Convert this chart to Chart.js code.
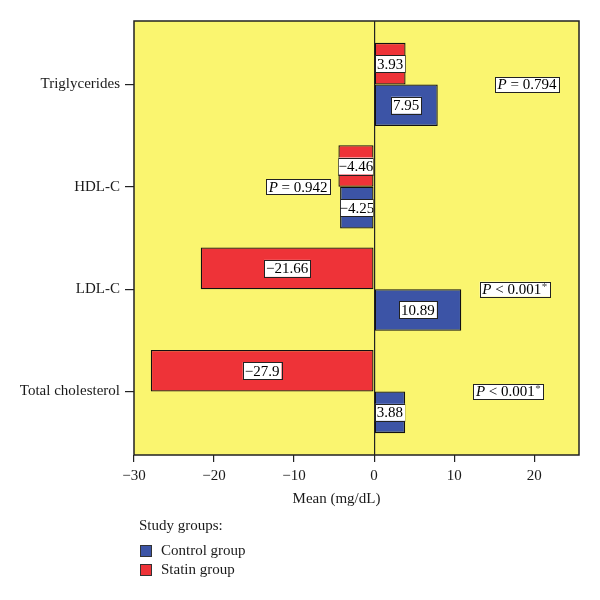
<!DOCTYPE html>
<html>
<head>
<meta charset="utf-8">
<script src="https://cdn.jsdelivr.net/npm/chart.js@4/dist/chart.umd.min.js"></script>
<style>
  html, body { margin: 0; padding: 0; background: #ffffff; }
  #wrap { position: relative; width: 600px; height: 600px; }
</style>
</head>
<body>
<div id="wrap"><canvas id="c" width="600" height="600"></canvas></div>
<script>
// ---- data ----
const categories = ['Triglycerides', 'HDL-C', 'LDL-C', 'Total cholesterol'];
const statinValues = [3.93, -4.46, -21.66, -27.9];
const controlValues = [7.95, -4.25, 10.89, 3.88];
const valueLabels = {
  statin: ['3.93', '\u22124.46', '\u221221.66', '\u221227.9'],
  control: ['7.95', '\u22124.25', '10.89', '3.88']
};
const pTexts = ['= 0.794', '= 0.942', '< 0.001', '< 0.001'];
const pSignificant = [false, false, true, true];
const pAnchorX = [19.1, -9.5, 17.6, 16.8];   // where each P box sits, in axis units
const xTicks = [-30, -20, -10, 0, 10, 20];
const xTitle = 'Mean (mg/dL)';
const legendTitle = 'Study groups:';

// ---- style ----
const SERIF = '"Liberation Serif", "DejaVu Serif", serif';
const YELLOW = '#FAF56F';
const RED = '#EE3338';
const BLUE = '#3C54A6';
const DARK = '#222222';

const bgPlugin = {
  id: 'bg',
  beforeDraw(chart) {
    const {ctx, chartArea: a} = chart;
    ctx.save();
    ctx.fillStyle = YELLOW;
    ctx.fillRect(a.left, a.top, a.right - a.left, a.bottom - a.top);
    ctx.restore();
  },
  afterDraw(chart) {
    const {ctx, chartArea: a} = chart;
    ctx.save();
    ctx.strokeStyle = DARK;
    ctx.lineWidth = 1.5;
    ctx.strokeRect(a.left, a.top, a.right - a.left, a.bottom - a.top);
    ctx.restore();
  }
};

function drawBox(ctx, cx, cy, w, h) {
  ctx.fillStyle = '#ffffff';
  ctx.fillRect(cx - w / 2, cy - h / 2, w, h);
  ctx.strokeStyle = DARK;
  ctx.lineWidth = 1;
  ctx.strokeRect(Math.round(cx - w / 2) + 0.5, Math.round(cy - h / 2) + 0.5, Math.round(w), Math.round(h));
}

const labelPlugin = {
  id: 'labels',
  afterDatasetsDraw(chart) {
    const {ctx} = chart;
    ctx.save();
    ctx.font = '15px ' + SERIF;
    ctx.textBaseline = 'middle';
    ctx.textAlign = 'center';
    chart.data.datasets.forEach((ds, di) => {
      const meta = chart.getDatasetMeta(di);
      meta.data.forEach((el, i) => {
        const txt = ds.valueText[i];
        const left = Math.min(el.x, el.base), right = Math.max(el.x, el.base);
        const cx = (left + right) / 2, cy = el.y;
        const w = ctx.measureText(txt).width + 4, h = 17;
        ctx.save();
        ctx.beginPath();
        ctx.rect(left, cy - h, right - left, 2 * h);
        ctx.clip();
        drawBox(ctx, cx, cy, Math.min(w, right - left), h);
        ctx.fillStyle = '#000';
        ctx.fillText(txt, cx, cy + 1);
        ctx.restore();
      });
    });

    // P value boxes
    const xs = chart.scales.x, ys = chart.scales.y;
    pTexts.forEach((t, i) => {
      const cx = xs.getPixelForValue(pAnchorX[i]);
      const cy = ys.getPixelForValue(i);
      ctx.font = 'italic 15px ' + SERIF;
      const wP = ctx.measureText('P').width;
      ctx.font = '15px ' + SERIF;
      const rest = ' ' + t;
      const wR = ctx.measureText(rest).width;
      ctx.font = '11px ' + SERIF;
      const wS = pSignificant[i] ? ctx.measureText('*').width + 1 : 0;
      const total = wP + wR + wS;
      drawBox(ctx, cx, cy, total + 5, 15);
      let x = cx - total / 2;
      ctx.textAlign = 'left';
      ctx.fillStyle = '#000';
      ctx.font = 'italic 15px ' + SERIF;
      ctx.fillText('P', x, cy + 1);
      x += wP;
      ctx.font = '15px ' + SERIF;
      ctx.fillText(rest, x, cy + 1);
      x += wR;
      if (pSignificant[i]) {
        ctx.font = '11px ' + SERIF;
        ctx.fillStyle = '#444';
        ctx.fillText('*', x + 0.5, cy - 2);
      }
    });
    ctx.restore();
  }
};

const extraTextPlugin = {
  id: 'extraText',
  afterDraw(chart) {
    const {ctx, chartArea: a} = chart;
    ctx.save();
    ctx.fillStyle = '#1a1a1a';
    ctx.textBaseline = 'middle';
    // axis title
    ctx.font = '15px ' + SERIF;
    ctx.textAlign = 'center';
    ctx.fillText(xTitle, (a.left + a.right) / 2 - 20, a.bottom + 44);
    // legend
    ctx.textAlign = 'left';
    ctx.fillText(legendTitle, a.left + 5, a.bottom + 71);
    const order = [1, 0];
    order.forEach((di, k) => {
      const ds = chart.data.datasets[di];
      const cy = a.bottom + 96 + k * 19;
      ctx.fillStyle = ds.backgroundColor;
      ctx.fillRect(a.left + 6, cy - 6, 12, 12);
      ctx.strokeStyle = '#333';
      ctx.lineWidth = 1;
      ctx.strokeRect(a.left + 6.5, cy - 5.5, 11, 11);
      ctx.fillStyle = '#1a1a1a';
      ctx.fillText(ds.label, a.left + 27, cy);
    });
    ctx.restore();
  }
};

new Chart(document.getElementById('c'), {
  type: 'bar',
  data: {
    datasets: [
      {
        label: 'Statin group',
        data: statinValues.map((v, i) => ({x: v, y: i})),
        valueText: valueLabels.statin,
        backgroundColor: RED,
        borderColor: '#111111',
        borderWidth: 1.3,
        borderSkipped: false
      },
      {
        label: 'Control group',
        data: controlValues.map((v, i) => ({x: v, y: i})),
        valueText: valueLabels.control,
        backgroundColor: BLUE,
        borderColor: '#111111',
        borderWidth: 1.3,
        borderSkipped: false
      }
    ]
  },
  options: {
    indexAxis: 'y',
    responsive: false,
    animation: false,
    categoryPercentage: 0.813,
    barPercentage: 1,
    layout: { padding: { top: 21, right: 21, left: 0, bottom: 0 } },
    plugins: {
      legend: { display: false },
      tooltip: { enabled: false }
    },
    scales: {
      x: {
        type: 'linear',
        min: -30,
        max: 25.6,
        afterFit(s) { s.height = 145; },
        afterBuildTicks(s) { s.ticks = xTicks.map(v => ({value: v})); },
        ticks: {
          color: '#1a1a1a',
          font: { family: SERIF, size: 15 },
          padding: 5,
          maxRotation: 0,
          callback: (v) => (v < 0 ? '\u2212' + Math.abs(v) : String(v))
        },
        grid: {
          drawOnChartArea: true,
          color: (c) => (c.tick && c.tick.value === 0 ? DARK : 'rgba(0,0,0,0)'),
          tickColor: DARK,
          tickLength: 7,
          lineWidth: 1.2
        },
        border: { display: false }
      },
      y: {
        type: 'linear',
        reverse: true,
        offset: false,
        min: -0.62,
        max: 3.62,
        afterFit(s) { s.width = 134; },
        afterBuildTicks(s) { s.ticks = categories.map((_, i) => ({value: i})); },
        ticks: {
          autoSkip: false,
          color: '#1a1a1a',
          font: { family: SERIF, size: 15 },
          padding: 5,
          callback: (v) => categories[v]
        },
        grid: {
          offset: false,
          drawOnChartArea: false,
          drawTicks: true,
          tickColor: DARK,
          tickLength: 9,
          lineWidth: 1.2
        },
        border: { display: false }
      }
    }
  },
  plugins: [bgPlugin, labelPlugin, extraTextPlugin]
});
</script>
</body>
</html>
